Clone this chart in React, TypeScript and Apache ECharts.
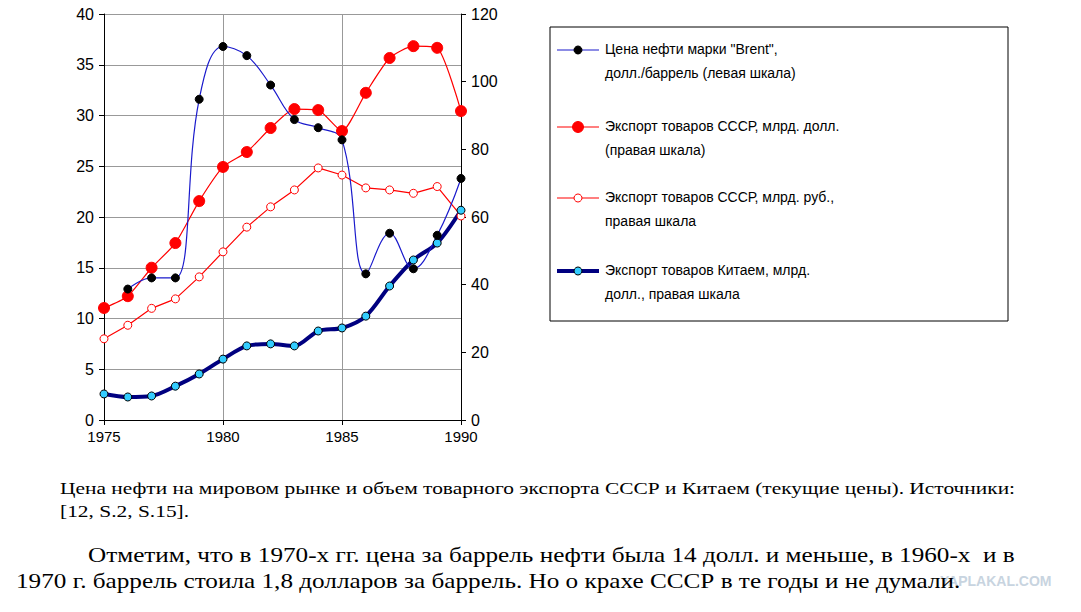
import React, { useEffect, useRef } from "react";
import * as echarts from "echarts";

const years = [1975,1976,1977,1978,1979,1980,1981,1982,1983,1984,1985,1986,1987,1988,1989,1990];
const brent: (number|null)[] = [null,12.9,14.0,14.0,31.6,36.8,35.9,33.0,29.6,28.8,27.6,14.4,18.4,14.9,18.2,23.8];
const ussrUsd = [33.1,36.6,45,52.3,64.7,74.8,79.2,86.3,91.9,91.6,85.4,96.7,107,110.5,110,91.3];
const ussrRub = [24,28,33,35.8,42.3,49.7,57,63,68,74.5,72.4,68.6,68,67,69,60.3];
const china = [7.7,6.8,7.1,10,13.6,18,21.9,22.5,21.9,26.3,27.2,30.7,39.6,47.3,52.3,62];
const legendLabels = [
  ["Цена нефти марки \"Brent\",", "долл./баррель (левая шкала)"],
  ["Экспорт товаров СССР, млрд. долл.", "(правая шкала)"],
  ["Экспорт товаров СССР, млрд. руб.,", "правая шкала"],
  ["Экспорт товаров Китаем, млрд.", "долл., правая шкала"],
];

const pair = (a: (number|null)[]) => years.map((y, i) => [y, a[i]]);

export default function App() {
  const ref = useRef<HTMLDivElement>(null);
  useEffect(() => {
    const chart = echarts.init(ref.current!, null, { renderer: "svg" });
    const font = "Liberation Sans, Arial, sans-serif";
    const legendY = [50, 127, 198, 271];
    const legendStyles = [
      { color: "#1a1acc", w: 1.2, dot: "#000", stroke: "#000", r: 4 },
      { color: "#ff0000", w: 1.2, dot: "#ff0000", stroke: "#ff0000", r: 5.5 },
      { color: "#ff0000", w: 1.2, dot: "#fff", stroke: "#ff0000", r: 4 },
      { color: "#000080", w: 4, dot: "#33ccff", stroke: "#000", r: 4 },
    ];
    const graphics: any[] = [
      { type: "rect", shape: { x: 550, y: 27, width: 458, height: 294 }, style: { fill: "#fff", stroke: "#000", lineWidth: 1 } },
    ];
    legendY.forEach((y, i) => {
      const s = legendStyles[i];
      graphics.push({ type: "line", shape: { x1: 557, y1: y, x2: 599, y2: y }, style: { stroke: s.color, lineWidth: s.w } });
      graphics.push({ type: "circle", shape: { cx: 578, cy: y, r: s.r }, style: { fill: s.dot, stroke: s.stroke, lineWidth: 1 } });
      graphics.push({ type: "text", x: 605, y: y - 8, style: { text: legendLabels[i][0], font: `14px ${font}`, fill: "#000" } });
      graphics.push({ type: "text", x: 605, y: y + 16, style: { text: legendLabels[i][1], font: `14px ${font}`, fill: "#000" } });
    });
    const tf = "Liberation Serif, Times New Roman, serif";
    graphics.push(
      { type: "text", x: 60, y: 480, scaleX: 1.26, style: { text: "Цена нефти на мировом рынке и объем товарного экспорта СССР и Китаем (текущие цены). Источники:", font: `17px ${tf}`, fill: "#000" } },
      { type: "text", x: 60, y: 503, scaleX: 1.26, style: { text: "[12, S.2, S.15].", font: `17px ${tf}`, fill: "#000" } },
      { type: "text", x: 940, y: 574, style: { text: "YAPLAKAL.COM", font: `bold 14px ${font}`, fill: "#c8d4e0" } },
      { type: "text", x: 88, y: 544, scaleX: 1.2, style: { text: "Отметим, что в 1970-х гг. цена за баррель нефти была 14 долл. и меньше, в 1960-х  и в", font: `21px ${tf}`, fill: "#000" } },
      { type: "text", x: 16, y: 570, scaleX: 1.2, style: { text: "1970 г. баррель стоила 1,8 долларов за баррель. Но о крахе СССР в те годы и не думали.", font: `21px ${tf}`, fill: "#000" } },
    );
    chart.setOption({
      animation: false,
      grid: { left: 104, top: 14, width: 357, height: 406 },
      xAxis: {
        type: "value", min: 1975, max: 1990, interval: 5,
        axisLine: { onZero: false, lineStyle: { color: "#000" } },
        axisTick: { inside: false, length: 5, lineStyle: { color: "#000" } },
        axisLabel: { color: "#000", fontSize: 15, fontFamily: font, margin: 9, formatter: (v: number) => String(v) },
        splitLine: { show: true, lineStyle: { color: "#999", width: 1 } },
      },
      yAxis: [
        {
          type: "value", min: 0, max: 40, interval: 5,
          axisLine: { show: true, lineStyle: { color: "#000" } },
          axisTick: { show: true, length: 5, lineStyle: { color: "#000" } },
          axisLabel: { color: "#000", fontSize: 16, fontFamily: font, margin: 10 },
          splitLine: { show: true, lineStyle: { color: "#999", width: 1 } },
        },
        {
          type: "value", min: 0, max: 120, interval: 20, position: "right",
          axisLine: { show: true, lineStyle: { color: "#000" } },
          axisTick: { show: true, length: 5, lineStyle: { color: "#000" } },
          axisLabel: { color: "#000", fontSize: 16, fontFamily: font, margin: 10 },
          splitLine: { show: false },
        },
      ],
      series: [
        { type: "line", yAxisIndex: 1, data: pair(ussrRub), lineStyle: { color: "#ff0000", width: 1.2 }, symbol: "circle", symbolSize: 8, itemStyle: { color: "#fff", borderColor: "#ff0000", borderWidth: 1 } },
        { type: "line", yAxisIndex: 1, data: pair(ussrUsd), smooth: 0.2, lineStyle: { color: "#ff0000", width: 1.2 }, symbol: "circle", symbolSize: 11, itemStyle: { color: "#ff0000", borderColor: "#ff0000" } },
        { type: "line", yAxisIndex: 1, data: pair(china), smooth: 0.3, lineStyle: { color: "#000080", width: 4 }, symbol: "circle", symbolSize: 8, itemStyle: { color: "#33ccff", borderColor: "#000", borderWidth: 1 } },
        { type: "line", yAxisIndex: 0, data: pair(brent), smooth: 0.4, connectNulls: false, lineStyle: { color: "#1a1acc", width: 1.2 }, symbol: "circle", symbolSize: 8, itemStyle: { color: "#000", borderColor: "#000" } },
      ],
      graphic: graphics,
    });
    return () => chart.dispose();
  }, []);
  return <div ref={ref} style={{ position: "absolute", left: 0, top: 0, width: 1081, height: 612, background: "#fff" }} />;
}
